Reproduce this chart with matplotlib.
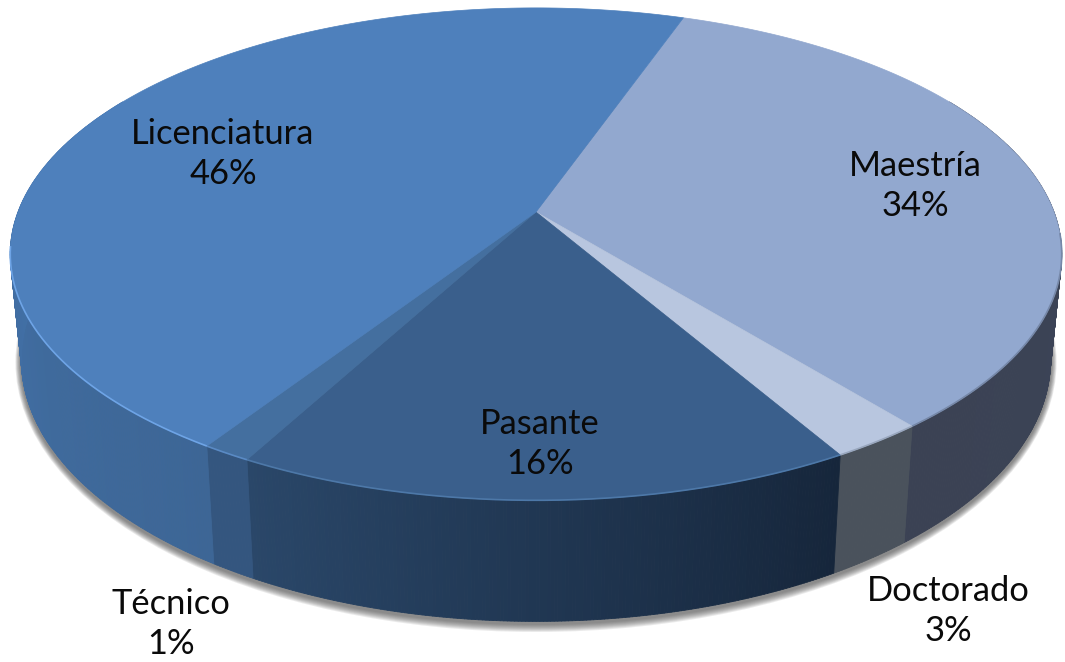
import numpy as np
import matplotlib
matplotlib.use("Agg")
import matplotlib.pyplot as plt
from matplotlib.collections import PolyCollection
from matplotlib.colors import to_rgb
from matplotlib.patches import Ellipse, Polygon

# shares, clockwise from Maestria
categories = ["Maestría", "Doctorado", "Pasante", "Técnico", "Licenciatura"]
shares = [33.8, 2.5, 16.2, 1.3, 46.2]
pct_labels = ["34%", "3%", "16%", "1%", "46%"]

top_colors = ["#92a8cf", "#b8c6df", "#3a5f8c", "#446f9f", "#4e80bc"]
wall_start = ["#3c4558", "#4a525c", "#16263b", "#34567f", "#3d6696"]
wall_end = ["#3b4254", "#4a525c", "#2a4769", "#34567f", "#4474ad"]
rim_colors = ["#7688a8", "#98a6bd", "#4d78a8", "#5a8ac4", "#6ea4e6"]
rim_limits = [(95, 180), (95, 180), (95, 285), (95, 285), (95, 262)]
label_xy = [(915, 186), (948, 611), (540, 444), (171, 624), (223, 154)]

START = 19.3
K = 0.171
TOP = dict(cx=536, cy=212, a=518, b=239)
BOTTOM = dict(cx=536, cy=315, a=507, b=254)


def project(theta, cx, cy, a, b):
    rad = np.radians(theta)
    w = 1 + K * np.cos(rad)
    return cx + a * np.sin(rad) / w, cy - b * np.cos(rad) / w


def wall_quads(t0, t1, c0, c1):
    # clip to the part of the rim that faces the viewer
    t0, t1 = max(t0, 60), min(t1, 300)
    if t1 <= t0:
        return [], []
    steps = np.linspace(t0, t1, max(int((t1 - t0) * 3), 2))
    quads, colors = [], []
    for i, (a0, a1) in enumerate(zip(steps[:-1], steps[1:])):
        quads.append([project(a0, **TOP), project(a1, **TOP),
                      project(a1, **BOTTOM), project(a0, **BOTTOM)])
        f = i / max(len(steps) - 2, 1)
        colors.append(tuple((1 - f) * np.array(c0) + f * np.array(c1)))
    return quads, colors


fig = plt.figure(figsize=(10.65, 6.62), dpi=100)
ax = fig.add_axes([0, 0, 1, 1])
ax.set_xlim(0, 1065)
ax.set_ylim(662, 0)
ax.axis("off")

# soft shadow under the base
for d in np.arange(8, 0, -1):
    ax.add_patch(Ellipse((536, 362), 2 * (515 + d * 0.7), 2 * (262 + d),
                         fc="#444444", ec="none", alpha=0.11, zorder=1))

edges = START + np.cumsum([0] + shares) * 3.6
for i in range(len(categories)):
    quads, colors = wall_quads(edges[i], edges[i + 1],
                               to_rgb(wall_start[i]), to_rgb(wall_end[i]))
    if quads:
        ax.add_collection(PolyCollection(quads, facecolors=colors, edgecolors=colors,
                                         linewidths=0.6, zorder=2))

for i in range(len(categories)):
    arc = np.linspace(edges[i], edges[i + 1], 200)
    x, y = project(arc, **TOP)
    pts = np.column_stack([np.r_[TOP["cx"], x], np.r_[TOP["cy"], y]])
    ax.add_patch(Polygon(pts, closed=True, fc=top_colors[i], ec=top_colors[i],
                         lw=0.5, zorder=3))

# thin lit or shaded edge round the front of the top face
for i in range(len(categories)):
    t0, t1 = max(edges[i], rim_limits[i][0]), min(edges[i + 1], rim_limits[i][1])
    if t1 > t0:
        x, y = project(np.linspace(t0, t1, 200), **TOP)
        ax.plot(x, y, color=rim_colors[i], lw=1.2, zorder=4, solid_capstyle="butt")

plt.rcParams["font.family"] = ["Lato", "DejaVu Sans"]
for name, pct, (lx, ly) in zip(categories, pct_labels, label_xy):
    ax.text(lx, ly, f"{name}\n{pct}", ha="center", va="center", fontsize=24.8,
            color="#0a0a0a", linespacing=1.33, zorder=5)

fig.savefig("out.png", dpi=100)
